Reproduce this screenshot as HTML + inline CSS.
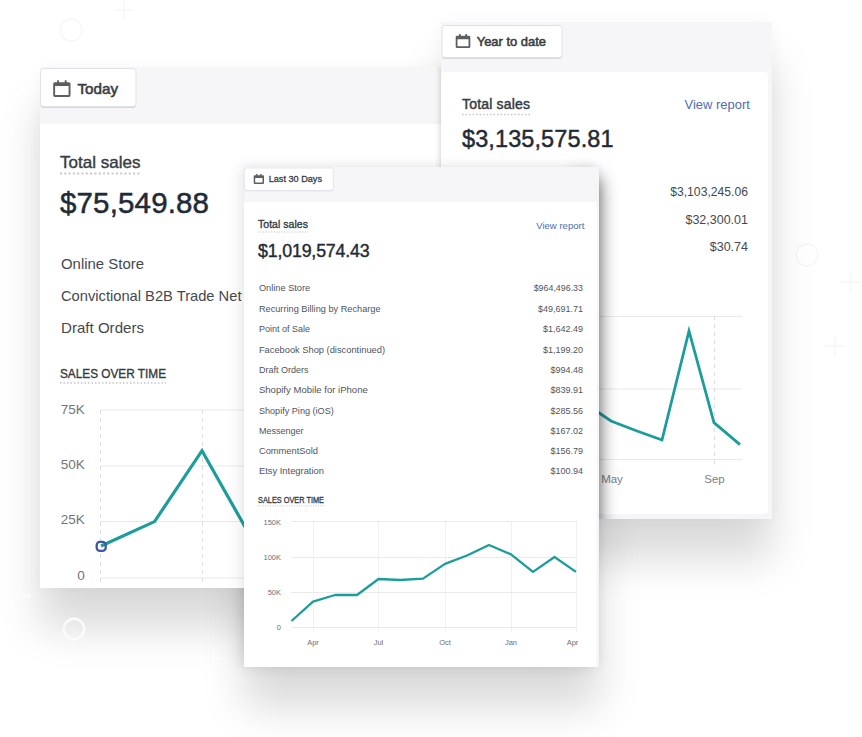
<!DOCTYPE html>
<html><head><meta charset="utf-8"><style>
html,body{margin:0;padding:0;background:#fff;}
body{width:862px;height:737px;position:relative;overflow:hidden;font-family:"Liberation Sans",Arial,sans-serif;}
.card{position:absolute;overflow:hidden;background:#f6f6f8;}
.card svg{position:absolute;}
text{font-family:"Liberation Sans",Arial,sans-serif;}
</style></head><body>

<!-- decorative -->
<svg style="position:absolute;left:0;top:0" width="862" height="737">
  <g fill="none" stroke="#f6f6f6" stroke-width="1.3" stroke-linecap="round">
    <circle cx="71" cy="30" r="11"/>
    <path d="M124 1v18M115 10h18"/>
    <circle cx="807" cy="255" r="11"/>
    <path d="M851 272v20M841 282h20"/>
    <path d="M835 336v20M825 346h20"/>
  </g>
</svg>
<!-- shadows -->
<div style="position:absolute;left:40px;top:67px;width:520px;height:521px;box-shadow:0 0 16px rgba(0,0,0,0.035), 0 40px 40px rgba(0,0,0,0.15);"></div>
<div style="position:absolute;left:441px;top:22px;width:331px;height:497px;box-shadow:0 0 16px rgba(0,0,0,0.035), 0 40px 40px rgba(0,0,0,0.15);"></div>
<div style="position:absolute;left:244px;top:167px;width:354.5px;height:500px;box-shadow:0 0 16px rgba(0,0,0,0.035), 0 40px 40px rgba(0,0,0,0.15);"></div>

<!-- LEFT CARD -->
<div class="card" id="cA" style="left:40px;top:67px;width:520px;height:521px;">
<svg style="left:-40px;top:-67px" width="862" height="737">
  <rect x="40" y="124" width="520" height="464" fill="#fff"/>
  <!-- button -->
  <rect x="40.5" y="69.5" width="95.5" height="38.5" rx="3" fill="#d5d8dc"/>
  <rect x="40.5" y="68.5" width="95.5" height="38" rx="3" fill="#fff" stroke="#dfe3e8"/>
  <g transform="translate(53.2 80.2) scale(1)" fill="#5b5e62"><path fill-rule="evenodd" d="M1.6 2h14.100000000000001a1.6 1.6 0 0 1 1.6 1.6v11.5a1.6 1.6 0 0 1-1.6 1.6H1.6A1.6 1.6 0 0 1 0 15.1V3.6A1.6 1.6 0 0 1 1.6 2zM1.9 5.9v8.90h13.50v-8.90z"/><rect x="3.9" y="0" width="1.9" height="3" rx="0.5"/><rect x="11.50" y="0" width="1.9" height="3" rx="0.5"/></g>
  <text x="77.5" y="93.8" font-size="15" fill="#3a3e45" stroke="#3a3e45" stroke-width="0.6" textLength="40.5" lengthAdjust="spacingAndGlyphs">Today</text>

  <text x="60" y="168" font-size="17" fill="#363c43" stroke="#363c43" stroke-width="0.4" textLength="80.5" lengthAdjust="spacing">Total sales</text>
  <line x1="60" y1="173.5" x2="141" y2="173.5" stroke="#c6c8cc" stroke-width="2" stroke-dasharray="2 2.3"/>
  <text x="60" y="213.4" font-size="29.5" fill="#212b36" stroke="#212b36" stroke-width="0.5" textLength="149" lengthAdjust="spacing">$75,549.88</text>

  <g font-size="15" fill="#44494f">
    <text x="61" y="268.6" textLength="83" lengthAdjust="spacingAndGlyphs">Online Store</text>
    <clipPath id="cpNet"><rect x="40" y="280" width="201.8" height="30"/></clipPath><text x="61" y="301" textLength="211.5" lengthAdjust="spacingAndGlyphs" clip-path="url(#cpNet)">Convictional B2B Trade Network</text>
    <text x="61" y="332.8" textLength="83" lengthAdjust="spacingAndGlyphs">Draft Orders</text>
  </g>
  <text x="60" y="378.3" font-size="13" fill="#343a40" stroke="#343a40" stroke-width="0.35" textLength="106" lengthAdjust="spacingAndGlyphs">SALES OVER TIME</text>
  <line x1="60" y1="383" x2="166" y2="383" stroke="#c6c8cc" stroke-width="1.5" stroke-dasharray="1.5 2"/>

  <!-- chart -->
  <g stroke="#e8e9eb" stroke-width="1">
    <line x1="100" y1="410" x2="560" y2="410"/>
    <line x1="100" y1="466" x2="560" y2="466"/>
    <line x1="100" y1="521.5" x2="560" y2="521.5"/>
    <line x1="100" y1="578" x2="560" y2="578"/>
  </g>
  <g stroke="#dcdde0" stroke-width="1" stroke-dasharray="4 4">
    <line x1="100.5" y1="410" x2="100.5" y2="584"/>
    <line x1="202.5" y1="410" x2="202.5" y2="584"/>
    <line x1="304.5" y1="410" x2="304.5" y2="584"/>
  </g>
  <g font-size="13.5" fill="#6f757c" text-anchor="end">
    <text x="84.8" y="413.6">75K</text>
    <text x="84.8" y="468.9">50K</text>
    <text x="84.8" y="524.3">25K</text>
    <text x="84.8" y="579.9">0</text>
  </g>
  <rect x="96.7" y="541.9" width="9" height="9" rx="3.2" fill="#fff"/>
  <polyline points="101,546 154.5,521.6 202,450.7 253,541 304,560" fill="none" stroke="#1d9d99" stroke-width="3.2" stroke-linejoin="miter"/>
  <rect x="96.7" y="541.9" width="9" height="9" rx="3.2" fill="none" stroke="#3f56a6" stroke-width="2.3"/>
  <defs><filter id="bl2" x="-1" y="-0.2" width="3" height="1.4"><feGaussianBlur stdDeviation="3.5"/></filter></defs>
  <rect x="441" y="60" width="20" height="540" fill="#000" opacity="0.22" filter="url(#bl2)"/>
</svg>
</div>

<!-- RIGHT CARD -->
<div class="card" id="cB" style="left:441px;top:22px;width:331px;height:497px;">
<svg style="left:-441px;top:-22px" width="862" height="737">
  <rect x="441" y="72" width="327" height="442" rx="4" fill="#fff"/>
  <rect x="442" y="26.5" width="120" height="32.5" rx="3" fill="#d5d8dc"/>
  <rect x="442" y="25.5" width="120" height="32" rx="3" fill="#fff" stroke="#dfe3e8"/>
  <g transform="translate(455.7 34) scale(0.844)" fill="#5b5e62"><path fill-rule="evenodd" d="M1.6 2h14.100000000000001a1.6 1.6 0 0 1 1.6 1.6v11.5a1.6 1.6 0 0 1-1.6 1.6H1.6A1.6 1.6 0 0 1 0 15.1V3.6A1.6 1.6 0 0 1 1.6 2zM2.1 6.2v8.40h13.10v-8.40z"/><rect x="3.9" y="0" width="2.1" height="3" rx="0.5"/><rect x="11.30" y="0" width="2.1" height="3" rx="0.5"/></g>
  <text x="476.7" y="45.7" font-size="12.5" fill="#3a3e45" stroke="#3a3e45" stroke-width="0.55" textLength="69.4" lengthAdjust="spacingAndGlyphs">Year to date</text>

  <text x="462" y="109" font-size="14" fill="#363c43" stroke="#363c43" stroke-width="0.45" textLength="68" lengthAdjust="spacing">Total sales</text>
  <line x1="462" y1="114.5" x2="530" y2="114.5" stroke="#c6c8cc" stroke-width="1.6" stroke-dasharray="1.6 1.9"/>
  <text x="749.8" y="108.8" font-size="12.5" fill="#4f6db0" text-anchor="end" textLength="65.3" lengthAdjust="spacingAndGlyphs">View report</text>
  <text x="462" y="147.2" font-size="23.5" fill="#212b36" stroke="#212b36" stroke-width="0.45" textLength="151.5" lengthAdjust="spacing">$3,135,575.81</text>

  <g font-size="12.5" fill="#44494f" text-anchor="end">
    <text x="748" y="195.5" textLength="77.8" lengthAdjust="spacingAndGlyphs">$3,103,245.06</text>
    <text x="748" y="223.5">$32,300.01</text>
    <text x="748" y="250.8">$30.74</text>
  </g>

  <g stroke="#e8e9eb" stroke-width="1">
    <line x1="460" y1="316.5" x2="742" y2="316.5"/>
    <line x1="460" y1="389" x2="742" y2="389"/>
    <line x1="460" y1="459.5" x2="742" y2="459.5"/>
  </g>
  <g stroke="#dcdde0" stroke-width="1" stroke-dasharray="4 4">
    <line x1="714.5" y1="316" x2="714.5" y2="466"/>
  </g>
  <g font-size="11.5" fill="#7b8188" text-anchor="middle">
    <text x="612" y="483">May</text>
    <text x="714.5" y="483">Sep</text>
  </g>
  <polyline points="560,395 586,404 611,421 637,431 662,440 689,331 714,422.6 740,444.6" fill="none" stroke="#1d9d99" stroke-width="2.8"/>
  <defs><filter id="bl" x="-2" y="-1" width="5" height="3"><feGaussianBlur stdDeviation="9"/></filter></defs>
  <rect x="570" y="178" width="30" height="420" fill="#000" opacity="0.6" filter="url(#bl)"/>
</svg>
</div>

<!-- MIDDLE CARD -->
<div class="card" id="cC" style="left:244px;top:167px;width:354.5px;height:500px;box-shadow:-5px 0 14px rgba(0,0,0,0.07), 0 -3px 8px rgba(0,0,0,0.04);">
<svg style="left:-244px;top:-167px" width="862" height="737">
  <rect x="244" y="202" width="352.5" height="466" fill="#fff"/>
  <rect x="244.5" y="168.8" width="88.8" height="22.4" rx="2" fill="#d5d8dc"/>
  <rect x="244.5" y="168" width="88.8" height="22.4" rx="2" fill="#fff" stroke="#dfe3e8" stroke-width="0.8"/>
  <g transform="translate(253.7 174) scale(0.595)" fill="#5b5e62"><path fill-rule="evenodd" d="M1.6 2h14.100000000000001a1.6 1.6 0 0 1 1.6 1.6v11.5a1.6 1.6 0 0 1-1.6 1.6H1.6A1.6 1.6 0 0 1 0 15.1V3.6A1.6 1.6 0 0 1 1.6 2zM2.5 6.6v7.60h12.30v-7.60z"/><rect x="3.9" y="0" width="2.5" height="3" rx="0.5"/><rect x="10.90" y="0" width="2.5" height="3" rx="0.5"/></g>
  <text x="268.7" y="182.4" font-size="8.6" fill="#3a3e45" stroke="#3a3e45" stroke-width="0.3" textLength="53.3" lengthAdjust="spacingAndGlyphs">Last 30 Days</text>

  <text x="258" y="228.4" font-size="10.5" fill="#363c43" stroke="#363c43" stroke-width="0.35" textLength="50" lengthAdjust="spacing">Total sales</text>
  <line x1="258" y1="232" x2="308" y2="232" stroke="#c6c8cc" stroke-width="1.1" stroke-dasharray="1.2 1.4"/>
  <text x="584.4" y="228.7" font-size="9.3" fill="#4f6db0" text-anchor="end" textLength="48.2" lengthAdjust="spacingAndGlyphs">View report</text>
  <text x="258" y="256.6" font-size="17.8" fill="#212b36" stroke="#212b36" stroke-width="0.4" textLength="111.7" lengthAdjust="spacing">$1,019,574.43</text>

  <g font-size="9" fill="#50555b">
    <text x="258.9" y="291.2" textLength="51.3" lengthAdjust="spacingAndGlyphs">Online Store</text>
    <text x="258.9" y="311.7" textLength="121.7" lengthAdjust="spacingAndGlyphs">Recurring Billing by Recharge</text>
    <text x="258.9" y="332.1">Point of Sale</text>
    <text x="258.9" y="352.5" textLength="126.1" lengthAdjust="spacingAndGlyphs">Facebook Shop (discontinued)</text>
    <text x="258.9" y="372.9">Draft Orders</text>
    <text x="258.9" y="393.2" textLength="108.9" lengthAdjust="spacingAndGlyphs">Shopify Mobile for iPhone</text>
    <text x="258.9" y="413.5" textLength="74.9" lengthAdjust="spacingAndGlyphs">Shopify Ping (iOS)</text>
    <text x="258.9" y="433.8" textLength="44.7" lengthAdjust="spacingAndGlyphs">Messenger</text>
    <text x="258.9" y="454.1" textLength="59.1" lengthAdjust="spacingAndGlyphs">CommentSold</text>
    <text x="258.9" y="474.4" textLength="65.1" lengthAdjust="spacingAndGlyphs">Etsy Integration</text>
  </g>
  <g font-size="9" fill="#50555b" text-anchor="end">
    <text x="583" y="291.2" textLength="49.3" lengthAdjust="spacingAndGlyphs">$964,496.33</text>
    <text x="583" y="311.7">$49,691.71</text>
    <text x="583" y="332.1">$1,642.49</text>
    <text x="583" y="352.5">$1,199.20</text>
    <text x="583" y="372.9">$994.48</text>
    <text x="583" y="393.2">$839.91</text>
    <text x="583" y="413.5">$285.56</text>
    <text x="583" y="433.8">$167.02</text>
    <text x="583" y="454.1">$156.79</text>
    <text x="583" y="474.4">$100.94</text>
  </g>
  <text x="258" y="502.8" font-size="8.4" fill="#343a40" stroke="#343a40" stroke-width="0.3" textLength="66" lengthAdjust="spacingAndGlyphs">SALES OVER TIME</text>
  <line x1="258" y1="505.8" x2="324" y2="505.8" stroke="#c6c8cc" stroke-width="1" stroke-dasharray="1 1.4"/>

  <g stroke="#f1f1f3" stroke-width="1">
    <line x1="313.5" y1="522" x2="313.5" y2="632"/>
    <line x1="378.5" y1="522" x2="378.5" y2="632"/>
    <line x1="445.5" y1="522" x2="445.5" y2="632"/>
    <line x1="511.5" y1="522" x2="511.5" y2="632"/>
    <line x1="576.5" y1="522" x2="576.5" y2="632"/>
  </g>
  <g stroke="#eaeaec" stroke-width="1">
    <line x1="291" y1="521.5" x2="577" y2="521.5"/>
    <line x1="291" y1="557.5" x2="577" y2="557.5"/>
    <line x1="291" y1="592.5" x2="577" y2="592.5"/>
    <line x1="291" y1="627.5" x2="577" y2="627.5"/>
  </g>
  <g font-size="7.5" fill="#6a7077" text-anchor="end">
    <text x="281" y="524.7">150K</text>
    <text x="281" y="560.3">100K</text>
    <text x="281" y="595.3">50K</text>
    <text x="281" y="630.3">0</text>
  </g>
  <g font-size="7.5" fill="#6a7077" text-anchor="middle">
    <text x="313" y="644.8">Apr</text>
    <text x="378.5" y="644.8">Jul</text>
    <text x="445" y="644.8">Oct</text>
    <text x="511" y="644.8">Jan</text>
    <text x="572.5" y="644.8">Apr</text>
  </g>
  <polyline points="291.5,621 313,601.7 335,595 357,595 378.5,579 400.5,580 423,578.6 445,563.9 467,555.5 489,545 511,554.4 533,571.9 554.5,557 576,571.9" fill="none" stroke="#1d9d99" stroke-width="2.3" stroke-linejoin="round"/>
</svg>
</div>

<svg style="position:absolute;left:0;top:0" width="862" height="737">
  <g fill="none" stroke="#fbfbfb" stroke-linecap="round">
    <circle cx="74" cy="629" r="10.2" stroke-width="2.4"/>
    <path d="M21 587v17M12 596h18" stroke-width="3.6"/>
  </g>
</svg>
</body></html>
